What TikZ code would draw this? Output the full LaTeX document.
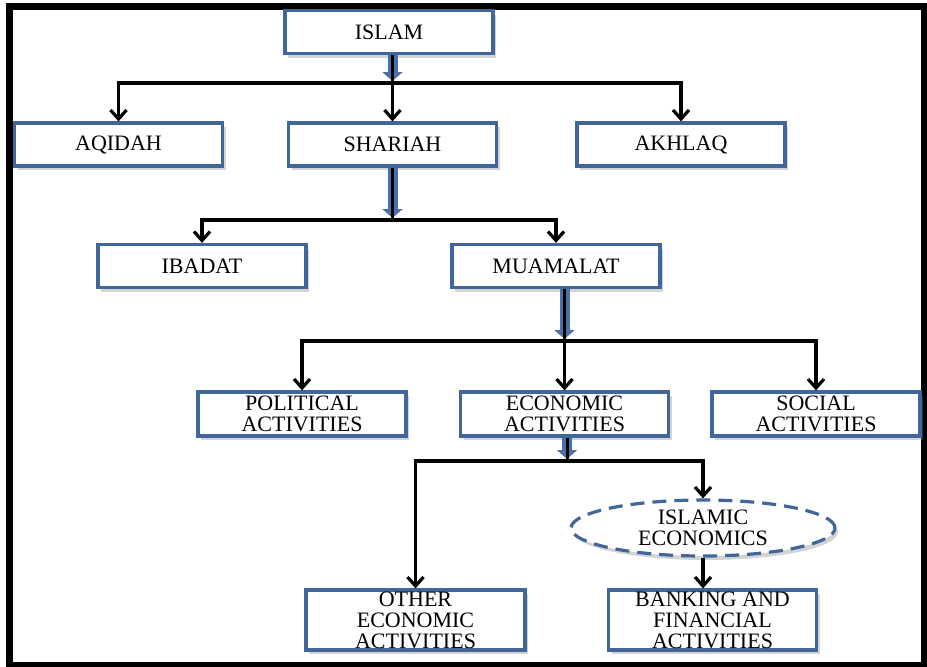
\documentclass[tikz,border=0pt]{standalone}
\usepackage{fontspec}
\setmainfont{Liberation Serif}
\usepackage{xcolor}
\usepackage{tikz}
\usetikzlibrary{arrows.meta}
\usetikzlibrary{shapes.geometric}
\usetikzlibrary{shadows}
\definecolor{boxblue}{RGB}{65,102,154}
\definecolor{trunkblue}{RGB}{74,112,166}
\tikzstyle{catbox}=[draw=boxblue, line width=3.2pt, shape=rectangle, fill=white, minimum width=208pt, minimum height=43pt, inner sep=0pt, align=center, font=\fontsize{22}{21}\selectfont, drop shadow={shadow xshift=3pt, shadow yshift=-4pt, opacity=0.35, fill=gray}]
\tikzstyle{ovalbox}=[draw=boxblue, line width=3.2pt, shape=ellipse, dash pattern=on 14pt off 8pt, fill=white, minimum width=264pt, minimum height=56pt, inner sep=0pt, align=center, font=\fontsize{22}{21}\selectfont, drop shadow={shadow xshift=3pt, shadow yshift=-4pt, opacity=0.35, fill=gray}]
\tikzstyle{link}=[-{Straight Barb[length=9pt, width=16pt, line width=3.2pt]}, line width=3.4pt, color=black]
\tikzstyle{trunk}=[-{Triangle[length=9pt, width=20pt]}, line width=10pt, color=trunkblue, shorten >=2pt]
\tikzstyle{trunkcore}=[line width=3pt, color=black]

\begin{document}
\begin{tikzpicture}[x=1pt, y=-1pt]
\useasboundingbox (0,0) rectangle (927,667);
\draw[line width=7pt] (9,6.5) rectangle (924,665);

\node [catbox] (islam) at (389,32) {ISLAM};
\node [catbox] (aqidah) at (118.5,144.5) {AQIDAH};
\node [catbox] (shariah) at (392.5,144.5) {SHARIAH};
\node [catbox] (akhlaq) at (681,144.5) {AKHLAQ};
\node [catbox] (ibadat) at (202,266) {IBADAT};
\node [catbox] (muamalat) at (556,266) {MUAMALAT};
\node [catbox, minimum height=44pt] (political) at (302,414) {POLITICAL\\ACTIVITIES};
\node [catbox, minimum height=44pt] (economic) at (564.5,414) {ECONOMIC\\ACTIVITIES};
\node [catbox, minimum height=44pt] (social) at (816,414) {SOCIAL\\ACTIVITIES};
\node [ovalbox] (isleco) at (703,528) {ISLAMIC\\ECONOMICS};
\node [catbox, minimum width=219pt, minimum height=60pt] (other) at (415.5,620) {OTHER\\ECONOMIC\\ACTIVITIES};
\node [catbox, minimum height=60pt] (banking) at (712.5,620) {BANKING AND\\FINANCIAL\\ACTIVITIES};

% junctions of the branch lines
\coordinate (j1) at (392.5,83);
\coordinate (j2) at (392.5,220);
\coordinate (j3) at (564.5,341);
\coordinate (j4) at (567,461);

\draw[trunk] (islam.south -| j1) -- (j1);
\draw[trunkcore] (islam.south -| j1) -- (j1);
\draw[link] (j1) -| (aqidah.north);
\draw[link] (j1) -- (shariah.north);
\draw[link] (j1) -| (akhlaq.north);

\draw[trunk] (shariah.south) -- (j2);
\draw[trunkcore] (shariah.south) -- (j2);
\draw[link] (j2) -| (ibadat.north);
\draw[link] (j2) -| (muamalat.north);

\draw[trunk] (muamalat.south -| j3) -- (j3);
\draw[trunkcore] (muamalat.south -| j3) -- (j3);
\draw[link] (j3) -| (political.north);
\draw[link] (j3) -- (economic.north);
\draw[link] (j3) -| (social.north);

\draw[trunk] (economic.south -| j4) -- (j4);
\draw[trunkcore] (economic.south -| j4) -- (j4);
\draw[link] (j4) -| (other.north);
\draw[link] (j4) -| (isleco.north);

\draw[link] (isleco.south) -- (banking.north -| isleco.south);
\end{tikzpicture}
\end{document}
